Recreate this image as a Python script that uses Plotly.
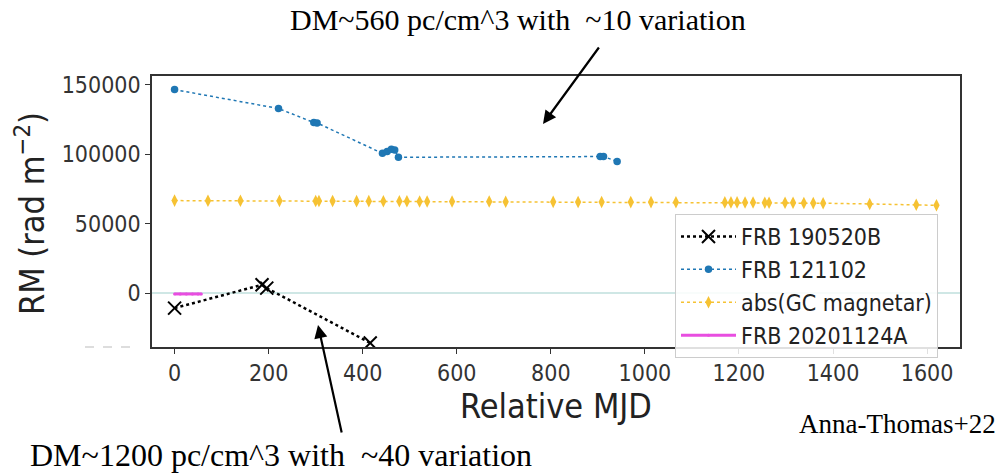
import plotly.graph_objects as go

# ---- data (relative MJD, rotation measure in rad m^-2) ----
frb190520b_mjd = [0, 186, 196, 416]
frb190520b_rm = [-10800, 6000, 3600, -35900]

frb121102_mjd = [0, 221, 296, 303, 442, 452, 461, 468, 476, 905, 912, 941]
frb121102_rm = [146500, 132900, 122800, 122500, 100600, 102000, 103500, 103000,
                97800, 98300, 98300, 94800]

gc_mjd = [0, 71, 140, 223, 300, 307, 336, 387, 413, 444, 478, 494, 521, 537,
          590, 669, 704, 805, 858, 908, 970, 1013, 1066, 1170, 1183, 1196,
          1213, 1230, 1255, 1264, 1298, 1315, 1338, 1358, 1379, 1478, 1577, 1620]
gc_rm = [66600, 66500, 66500, 66400, 66300, 66300, 66300, 66200, 66200, 66100,
         66100, 66100, 66000, 66000, 66000, 65900, 65800, 65700, 65600, 65600,
         65500, 65500, 65400, 65300, 65300, 65300, 65200, 65200, 65100, 65100,
         65000, 65000, 64900, 64800, 64700, 64200, 63600, 63200]

frb20201124a_mjd = [0, 12, 25, 38, 50, 57]
frb20201124a_rm = [-600, -580, -620, -590, -610, -600]

x_ticks = [0, 200, 400, 600, 800, 1000, 1200, 1400, 1600]
y_ticks = [0, 50000, 100000, 150000]

# ---- layout geometry (pixels) ----
W, H = 1001, 475
L, R, T, B = 152, 960, 76, 347


def px(xp):
    return (xp - L) / (R - L)


def py(yp):
    return (B - yp) / (B - T)


SANS = "DejaVu Sans Condensed, DejaVu Sans, sans-serif"
SERIF = "Liberation Serif, Times New Roman, serif"

fig = go.Figure()

fig.add_trace(go.Scatter(
    x=frb190520b_mjd, y=frb190520b_rm, name="FRB 190520B",
    mode="lines+markers",
    line=dict(color="black", width=2.5, dash="dot"),
    marker=dict(symbol="x-thin", size=13, color="black",
                line=dict(color="black", width=2)),
))
fig.add_trace(go.Scatter(
    x=frb121102_mjd, y=frb121102_rm, name="FRB 121102",
    mode="lines+markers",
    line=dict(color="#1f77b4", width=1.5, dash="dot"),
    marker=dict(symbol="circle", size=7.5, color="#1f77b4"),
))
fig.add_trace(go.Scatter(
    x=gc_mjd, y=gc_rm, name="abs(GC magnetar)",
    mode="lines+markers",
    line=dict(color="#f6c233", width=1.5, dash="dot"),
    marker=dict(symbol="diamond-tall", size=9, color="#f6c233"),
))
fig.add_trace(go.Scatter(
    x=frb20201124a_mjd, y=frb20201124a_rm, name="FRB 20201124A",
    mode="lines+markers",
    line=dict(color="#e84ee0", width=3),
    marker=dict(symbol="circle", size=3, color="#e84ee0"),
))

# zero reference line
fig.add_shape(type="line", xref="paper", x0=0, x1=1, yref="y", y0=0, y1=0,
              line=dict(color="#cfe7e5", width=2), layer="below")

# faint dashed stub left of the lower axis corner
fig.add_shape(type="line", xref="paper", yref="paper",
              x0=px(85), x1=px(132), y0=py(347), y1=py(347),
              line=dict(color="#bbbbbb", width=1.2, dash="dash"))

annotations = [
    dict(text="DM~560 pc/cm^3 with  ~10 variation", x=px(518), y=py(20),
         font=dict(family=SERIF, size=30, color="black")),
    dict(text="DM~1200 pc/cm^3 with  ~40 variation", x=px(281), y=py(455),
         font=dict(family=SERIF, size=32, color="black")),
    dict(text="Anna-Thomas+22", x=px(998), y=py(424), xanchor="right",
         font=dict(family=SERIF, size=27, color="black")),
    dict(text="Relative MJD", x=px(556), y=py(406),
         font=dict(family=SANS, size=34, color="#222222")),
    dict(text="RM (rad m<sup>−2</sup>)", x=px(30), y=py(214), textangle=-90,
         font=dict(family=SANS, size=34, color="#222222")),
    # arrows
    dict(text="", x=px(543), y=py(124), ax=600 - 543, ay=46 - 124,
         showarrow=True, arrowhead=2, arrowsize=1.2, arrowwidth=2.2,
         arrowcolor="black"),
    dict(text="", x=px(318), y=py(325), ax=342 - 318, ay=434 - 325,
         showarrow=True, arrowhead=2, arrowsize=1.2, arrowwidth=2.2,
         arrowcolor="black"),
]
for a in annotations:
    a.setdefault("showarrow", False)
    a["xref"] = "paper"
    a["yref"] = "paper"
    a.setdefault("xanchor", "center")
    a.setdefault("yanchor", "middle")

fig.update_layout(
    width=W, height=H,
    margin=dict(l=L, r=W - R, t=T, b=H - B),
    paper_bgcolor="white", plot_bgcolor="white",
    showlegend=True,
    legend=dict(
        x=px(675), y=py(214), xanchor="left", yanchor="top",
        bgcolor="rgba(255,255,255,0.85)", bordercolor="#cccccc", borderwidth=1,
        font=dict(family=SANS, size=23, color="#222222"),
        itemwidth=55, tracegroupgap=0,
    ),
    annotations=annotations,
    xaxis=dict(
        range=[-48, 1670], tickvals=x_ticks, ticktext=[str(v) for v in x_ticks],
        showgrid=False, zeroline=False, showline=True, mirror=True,
        linecolor="#333333", linewidth=1.5, ticks="outside", ticklen=5,
        tickcolor="#333333", tickwidth=1.2,
        tickfont=dict(family=SANS, size=23, color="#333333"),
    ),
    yaxis=dict(
        range=[-38800, 156300], tickvals=y_ticks, ticktext=[str(v) for v in y_ticks],
        showgrid=False, zeroline=False, showline=True, mirror=True,
        linecolor="#333333", linewidth=1.5, ticks="outside", ticklen=5,
        tickcolor="#333333", tickwidth=1.2,
        tickfont=dict(family=SANS, size=23, color="#333333"),
    ),
)

fig.write_html("out.html")
